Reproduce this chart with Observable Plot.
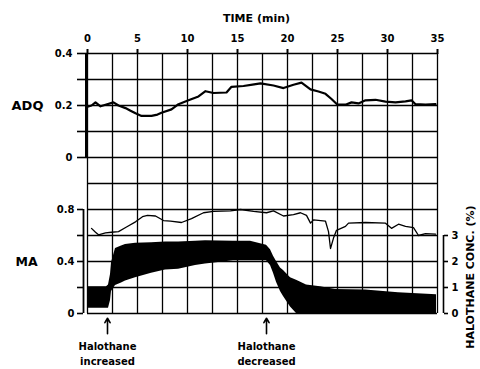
<!DOCTYPE html>
<html><head><meta charset="utf-8">
<script src="https://cdn.jsdelivr.net/npm/d3@7"></script>
<script src="https://cdn.jsdelivr.net/npm/@observablehq/plot@0.6"></script>
<style>html,body{margin:0;padding:0;background:#fff} svg{display:block}</style>
</head><body><div id="chart"></div>
<script>
// ---- data ----
const timeTicks = [0, 5, 10, 15, 20, 25, 30, 35];
const adqTicks = [0, 0.1, 0.2, 0.3, 0.4];
const adqTickLabels = ["0", "", "0.2", "", "0.4"];
const maTicks = [0, 0.2, 0.4, 0.6, 0.8];
const maTickLabels = ["0", "", "0.4", "", "0.8"];
const halTicks = [0, 1, 2, 3];
const halTickLabels = ["0", "1", "2", "3"];

const adqTime = [0, 0.4, 0.8, 1.3, 1.8, 2.6, 3.1, 3.8, 4.3, 4.8, 5.4, 6.4, 7.0, 7.4, 8.4, 9.1, 10.1, 11.1, 11.8, 12.6, 13.9, 14.4, 15.6, 16.5, 17.3, 18.6, 19.6, 20.6, 21.4, 22.3, 23.1, 23.8, 24.4, 25.0, 25.8, 26.4, 27.1, 27.8, 28.8, 29.8, 30.8, 31.8, 32.4, 32.8, 33.8, 34.8];
const adqValue = [0.195, 0.20, 0.212, 0.197, 0.203, 0.212, 0.20, 0.19, 0.18, 0.17, 0.16, 0.16, 0.165, 0.172, 0.185, 0.205, 0.22, 0.235, 0.255, 0.248, 0.25, 0.272, 0.275, 0.28, 0.285, 0.277, 0.267, 0.28, 0.288, 0.262, 0.254, 0.245, 0.225, 0.203, 0.203, 0.212, 0.208, 0.22, 0.222, 0.215, 0.212, 0.216, 0.22, 0.205, 0.203, 0.205];

const maTime = [0.4, 0.8, 1.1, 1.8, 2.4, 3.1, 3.9, 4.8, 5.5, 6.0, 6.8, 7.6, 8.3, 9.4, 10.4, 11.6, 12.6, 14.3, 15.3, 16.6, 17.9, 18.6, 19.6, 20.6, 21.3, 21.9, 22.3, 22.6, 23.8, 24.1, 24.3, 24.6, 24.9, 25.8, 26.1, 27.8, 29.8, 30.4, 31.1, 31.8, 32.6, 33.1, 33.8, 34.8];
const maValue = [0.655, 0.625, 0.605, 0.62, 0.625, 0.63, 0.665, 0.705, 0.745, 0.755, 0.75, 0.715, 0.71, 0.70, 0.73, 0.775, 0.785, 0.79, 0.80, 0.785, 0.775, 0.79, 0.75, 0.76, 0.775, 0.755, 0.695, 0.72, 0.71, 0.63, 0.50, 0.58, 0.64, 0.67, 0.695, 0.70, 0.695, 0.655, 0.687, 0.67, 0.66, 0.60, 0.615, 0.61];

const bandTime = [0, 1.9, 2.1, 2.3, 2.4, 2.8, 3.4, 3.8, 4.8, 6.4, 7.8, 9.1, 10.8, 11.8, 14.6, 16.3, 17.9, 18.3, 18.6, 18.9, 19.3, 19.6, 20.3, 20.9, 21.9, 23.3, 24.8, 27.8, 31.1, 34.9];
const bandLow = [0.04, 0.04, 0.04, 0.10, 0.17, 0.215, 0.235, 0.25, 0.275, 0.31, 0.335, 0.34, 0.37, 0.38, 0.405, 0.405, 0.405, 0.37, 0.31, 0.24, 0.17, 0.13, 0.05, 0, 0, 0, 0, 0, 0, 0];
const bandHigh = [0.205, 0.205, 0.22, 0.30, 0.39, 0.50, 0.52, 0.53, 0.54, 0.545, 0.55, 0.55, 0.555, 0.56, 0.555, 0.555, 0.525, 0.49, 0.44, 0.40, 0.35, 0.33, 0.275, 0.255, 0.22, 0.205, 0.185, 0.18, 0.16, 0.145];

const eventTime = [2.0, 17.9];
const eventLabel = ["Halothane\nincreased", "Halothane\ndecreased"];

// ---- mapping onto one grid of 10 chart rows ----
const adqRow = v => 6 + v * 10;   // ADQ: 0..0.4 -> rows 6..10
const maRow = v => v * 5;         // MA: 0..0.8 -> rows 0..4
const halRow = v => v;            // halothane %: 0..3 -> rows 0..3

const adq = adqTime.map((t, i) => ({t, y: adqRow(adqValue[i])}));
const ma = maTime.map((t, i) => ({t, y: maRow(maValue[i])}));
const band = bandTime.map((t, i) => ({t, lo: maRow(bandLow[i]), hi: maRow(bandHigh[i])}));
const events = eventTime.map((t, i) => ({t, label: eventLabel[i]}));

const gridX = d3.range(0, 35.01, 2.5);
const gridY = d3.range(0, 10.01, 1);

const F = "DejaVu Sans";
const chart = Plot.plot({
  width: 480, height: 369,
  marginLeft: 87, marginRight: 43, marginTop: 53, marginBottom: 56,
  style: {fontFamily: F, fontWeight: "bold", fontSize: "10px", color: "#000", background: "#fff", overflow: "visible"},
  x: {domain: [0, 35], axis: null},
  y: {domain: [0, 10], axis: null},
  marks: [
    Plot.ruleX(gridX, {y1: () => 0, y2: () => 10, stroke: "#000", strokeWidth: 1.3}),
    Plot.ruleY(gridY, {x1: () => 0, x2: () => 35, stroke: "#000", strokeWidth: 1.3}),
    Plot.area(band, {x1: "t", y1: "lo", y2: "hi", fill: "#000", curve: "linear"}),
    Plot.line(ma, {x: "t", y: "y", stroke: "#000", strokeWidth: 1.3}),
    Plot.line(adq, {x: "t", y: "y", stroke: "#000", strokeWidth: 2.2}),
    // top time axis
    Plot.axisX({anchor: "top", ticks: timeTicks, tickSize: 5, tickPadding: 7, label: null, tickFormat: d => String(d), strokeWidth: 2, fontSize: 10}),
    Plot.text(["TIME (min)"], {frameAnchor: "top", dx: -6, dy: -39, fontSize: 11, fontWeight: "bold"}),
    // ADQ axis
    Plot.ruleX([0], {y1: () => adqRow(0), y2: () => adqRow(0.4), dx: -1, strokeWidth: 3}),
    Plot.axisY({anchor: "left", ticks: adqTicks.map(adqRow), tickSize: 10, tickPadding: 5, strokeWidth: 1.6, label: null,
      tickFormat: d => adqTickLabels[adqTicks.findIndex(v => Math.abs(adqRow(v) - d) < 1e-6)], fontSize: 10}),
    Plot.text(["ADQ"], {x: () => 0, y: () => adqRow(0.2), dx: -60, fontSize: 13, fontWeight: "bold"}),
    // MA axis
    Plot.ruleX([0], {y1: () => maRow(0), y2: () => maRow(0.8), dx: -4, strokeWidth: 1.8}),
    Plot.axisY({anchor: "left", ticks: maTicks.map(maRow), dx: -4, tickSize: 6, tickPadding: 3, strokeWidth: 1.6, label: null,
      tickFormat: d => maTickLabels[maTicks.findIndex(v => Math.abs(maRow(v) - d) < 1e-6)], fontSize: 10}),
    Plot.text(["MA"], {x: () => 0, y: () => maRow(0.4), dx: -61, fontSize: 12.5, fontWeight: "bold"}),
    // halothane axis (right)
    Plot.ruleX([35], {y1: () => halRow(0), y2: () => halRow(3), dx: 6, strokeWidth: 1.6}),
    Plot.axisY({anchor: "right", ticks: halTicks.map(halRow), dx: 6, tickSize: 4, tickPadding: 4, strokeWidth: 1.6, label: null,
      tickFormat: d => halTickLabels[halTicks.indexOf(d)], fontSize: 10}),
    Plot.text(["HALOTHANE CONC. (%)"], {x: () => 35, y: () => 1.4, dx: 33, rotate: -90, fontSize: 11, fontWeight: "bold"}),
    // event arrows and notes
    Plot.arrow(events, {x1: "t", x2: "t", y1: () => -0.78, y2: () => -0.18, stroke: "#000", strokeWidth: 1.6, headLength: 5}),
    Plot.text(events, {x: "t", y: () => -1.5, text: "label", fontSize: 10, fontWeight: "bold", lineHeight: 1.55})
  ]
});
document.getElementById("chart").append(chart);
</script>
</body></html>
